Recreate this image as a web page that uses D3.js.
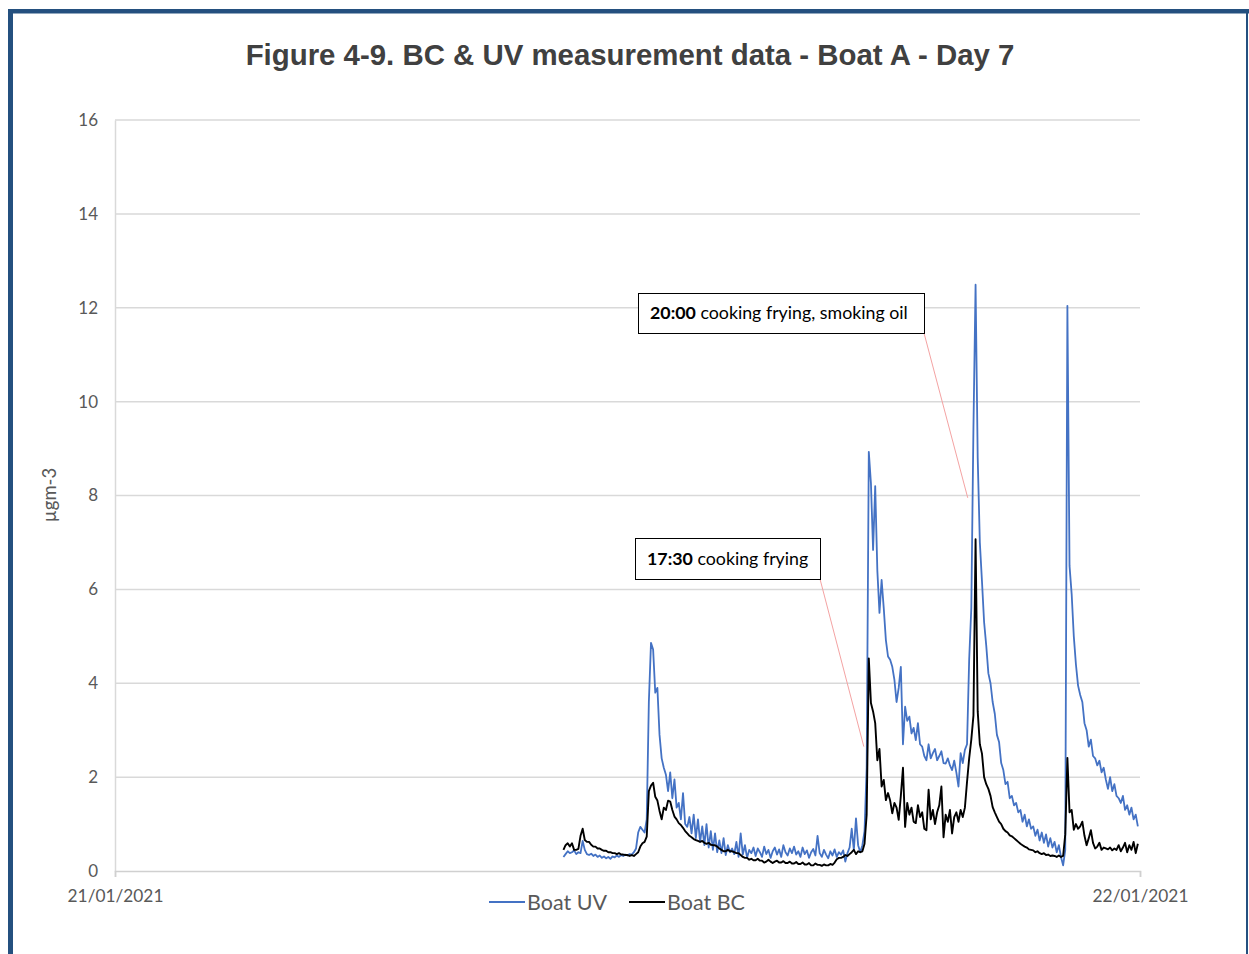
<!DOCTYPE html>
<html>
<head>
<meta charset="utf-8">
<script src="https://cdn.jsdelivr.net/npm/d3@7"></script>
<style>
  html, body { margin: 0; padding: 0; background: #ffffff; }
  svg { display: block; }
</style>
</head>
<body>
<svg id="chart" width="1249" height="954"></svg>
<script>
// Boat A, day 7: 3-minute readings from 10:30 until midnight
const startTime = new Date(2021, 0, 21, 10, 30);
const stepMinutes = 3;
const dayStart = new Date(2021, 0, 21, 0, 0);
const dayEnd = new Date(2021, 0, 22, 0, 0);

const uvValues = [
  0.30, 0.36, 0.42, 0.38, 0.40, 0.44, 0.36, 0.40, 0.38, 0.64,
  0.45, 0.36, 0.34, 0.37, 0.32, 0.35, 0.30, 0.33, 0.28, 0.31,
  0.27, 0.30, 0.26, 0.31, 0.29, 0.33, 0.30, 0.34, 0.32, 0.35,
  0.33, 0.36, 0.35, 0.40, 0.48, 0.82, 0.94, 0.88, 0.82, 1.10,
  3.60, 4.86, 4.72, 3.80, 3.90, 2.90, 2.40, 2.20, 2.05, 1.70,
  2.10, 1.55, 1.95, 1.35, 1.45, 1.10, 1.66, 1.00, 0.94, 1.15,
  0.80, 1.20, 0.70, 1.10, 0.62, 0.95, 0.55, 1.00, 0.50, 0.85,
  0.45, 0.80, 0.40, 0.65, 0.38, 0.70, 0.34, 0.55, 0.40, 0.48,
  0.36, 0.62, 0.30, 0.80, 0.35, 0.55, 0.28, 0.45, 0.38, 0.50,
  0.32, 0.48, 0.40, 0.30, 0.52, 0.36, 0.45, 0.28, 0.42, 0.50,
  0.35, 0.46, 0.30, 0.55, 0.40, 0.33, 0.48, 0.38, 0.52, 0.35,
  0.42, 0.30, 0.50, 0.36, 0.44, 0.28, 0.40, 0.47, 0.33, 0.75,
  0.38, 0.30, 0.45, 0.35, 0.27, 0.42, 0.33, 0.46, 0.30, 0.40,
  0.35, 0.44, 0.20, 0.38, 0.50, 0.90, 0.45, 1.12, 0.55, 0.40,
  0.55, 0.85, 2.20, 8.93, 8.26, 6.84, 8.20, 6.40, 5.50, 6.20,
  5.60, 4.92, 4.57, 4.50, 4.35, 4.07, 3.60, 3.90, 4.35, 2.70,
  3.50, 3.20, 3.29, 2.93, 3.05, 2.79, 3.15, 2.70, 2.65, 2.45,
  2.36, 2.70, 2.40, 2.51, 2.60, 2.36, 2.45, 2.55, 2.30, 2.29,
  2.40, 2.25, 2.15, 2.35, 2.10, 1.80, 2.51, 2.30, 2.58, 2.70,
  4.50, 5.60, 9.44, 12.49, 8.80, 7.00, 6.17, 5.30, 4.80, 4.21,
  4.00, 3.60, 3.35, 2.90, 2.75, 2.30, 2.15, 1.85, 1.90, 1.55,
  1.60, 1.40, 1.45, 1.25, 1.30, 1.05, 1.20, 0.95, 1.10, 0.90,
  0.95, 0.75, 0.88, 0.65, 0.82, 0.60, 0.78, 0.52, 0.70, 0.50,
  0.62, 0.40, 0.55, 0.30, 0.12, 0.45, 12.04, 6.50, 5.90, 5.00,
  4.40, 3.95, 3.75, 3.60, 3.15, 3.00, 2.65, 2.80, 2.45, 2.40,
  2.25, 2.35, 2.10, 2.20, 1.95, 1.75, 2.00, 1.70, 1.85, 1.60,
  1.55, 1.45, 1.60, 1.30, 1.40, 1.20, 1.35, 1.10, 1.20, 0.95
];

const bcValues = [
  0.45, 0.55, 0.59, 0.52, 0.59, 0.45, 0.45, 0.47, 0.75, 0.90,
  0.66, 0.62, 0.62, 0.56, 0.52, 0.52, 0.48, 0.48, 0.45, 0.43,
  0.43, 0.40, 0.40, 0.38, 0.38, 0.36, 0.38, 0.35, 0.35, 0.34,
  0.34, 0.32, 0.34, 0.32, 0.36, 0.40, 0.52, 0.59, 0.62, 0.73,
  1.70, 1.82, 1.88, 1.58, 1.50, 1.28, 1.10, 1.35, 1.30, 1.50,
  1.48, 1.30, 1.16, 1.10, 1.02, 0.98, 0.92, 0.85, 0.80, 0.75,
  0.72, 0.68, 0.66, 0.64, 0.62, 0.64, 0.60, 0.58, 0.60, 0.56,
  0.55, 0.55, 0.52, 0.48, 0.45, 0.42, 0.42, 0.45, 0.42, 0.42,
  0.40, 0.38, 0.38, 0.34, 0.30, 0.28, 0.28, 0.24, 0.26, 0.23,
  0.23, 0.26, 0.22, 0.22, 0.18, 0.20, 0.24, 0.20, 0.17, 0.20,
  0.22, 0.18, 0.18, 0.21, 0.17, 0.17, 0.20, 0.16, 0.16, 0.19,
  0.15, 0.15, 0.18, 0.14, 0.14, 0.17, 0.12, 0.12, 0.16, 0.13,
  0.13, 0.11, 0.14, 0.12, 0.12, 0.15, 0.13, 0.18, 0.25, 0.28,
  0.28, 0.30, 0.34, 0.32, 0.36, 0.40, 0.45, 0.36, 0.42, 0.40,
  0.42, 0.58, 1.20, 4.53, 3.58, 3.40, 3.15, 2.36, 2.60, 1.80,
  1.94, 1.51, 1.66, 1.50, 1.23, 1.45, 1.35, 1.09, 1.60, 2.20,
  0.94, 1.45, 1.20, 1.35, 1.05, 1.02, 1.40, 1.15, 1.25, 0.90,
  0.87, 1.73, 1.10, 1.30, 1.00, 1.25, 1.40, 1.80, 0.72, 1.20,
  1.05, 1.30, 0.80, 1.15, 1.25, 1.05, 1.30, 1.15, 1.35, 1.90,
  2.40, 2.80, 3.31, 7.07, 3.40, 2.70, 2.50, 2.00, 1.85, 1.75,
  1.60, 1.36, 1.25, 1.15, 1.05, 1.00, 0.90, 0.85, 0.82, 0.76,
  0.74, 0.70, 0.66, 0.62, 0.58, 0.55, 0.52, 0.50, 0.46, 0.45,
  0.44, 0.40, 0.42, 0.38, 0.36, 0.38, 0.34, 0.35, 0.32, 0.33,
  0.32, 0.30, 0.33, 0.30, 0.32, 0.78, 2.41, 1.25, 1.30, 0.88,
  1.00, 0.90, 0.95, 1.05, 0.75, 0.55, 0.70, 0.87, 0.60, 0.48,
  0.52, 0.60, 0.45, 0.50, 0.48, 0.46, 0.50, 0.44, 0.48, 0.45,
  0.55, 0.42, 0.50, 0.60, 0.40, 0.55, 0.45, 0.62, 0.38, 0.58
];

const yTicks = [0, 2, 4, 6, 8, 10, 12, 14, 16];
const xTickDates = [dayStart, dayEnd];
const seriesNames = ["Boat UV", "Boat BC"];
const seriesColors = ["#4472C4", "#000000"];

// Event notes: bold time, description, and the reading the leader points at
const noteTimes = ["20:00", "17:30"];
const noteTexts = [" cooking frying, smoking oil", " cooking frying"];
const noteTargets = [
  { time: new Date(2021, 0, 21, 19, 58), value: 7.95 },
  { time: new Date(2021, 0, 21, 17, 32), value: 2.65 }
];

const chartTitle = "Figure 4-9. BC & UV measurement data - Boat A - Day 7";
const yTitle = "µgm-3";

// ---------------------------------------------------------------
const svg = d3.select("#chart");
const W = 1249, H = 954;
const plot = { left: 115, right: 1140, top: 120, bottom: 871 };

const x = d3.scaleTime().domain([dayStart, dayEnd]).range([plot.left, plot.right]);
const y = d3.scaleLinear().domain([0, 16]).range([plot.bottom, plot.top]);

const timeAt = i => new Date(startTime.getTime() + i * stepMinutes * 60000);
const uvData = uvValues.map((v, i) => ({ t: timeAt(i), v }));
const bcData = bcValues.map((v, i) => ({ t: timeAt(i), v }));

// outer frame
const frameColor = "#24507f";
svg.append("rect").attr("x", 0).attr("y", 0).attr("width", W).attr("height", H).attr("fill", "#ffffff");
svg.append("rect").attr("x", 8).attr("y", 9).attr("width", W - 8).attr("height", 4.5).attr("fill", frameColor);
svg.append("rect").attr("x", 8).attr("y", 9).attr("width", 5).attr("height", H - 9).attr("fill", frameColor);
svg.append("rect").attr("x", W - 3).attr("y", 9).attr("width", 2).attr("height", H - 9).attr("fill", frameColor);

// title
svg.append("text")
  .attr("x", 630).attr("y", 65)
  .attr("text-anchor", "middle")
  .attr("font-family", "Liberation Sans, Arial, sans-serif")
  .attr("font-weight", "bold")
  .attr("font-size", 29.4)
  .attr("fill", "#404040")
  .text(chartTitle);

// horizontal gridlines
svg.append("g")
  .selectAll("line")
  .data(yTicks.filter(d => d > 0))
  .join("line")
  .attr("x1", plot.left).attr("x2", plot.right)
  .attr("y1", d => y(d)).attr("y2", d => y(d))
  .attr("stroke", "#d9d9d9").attr("stroke-width", 1.5);

// y axis
const yAxis = svg.append("g")
  .attr("transform", `translate(${plot.left},0)`)
  .call(d3.axisLeft(y).tickValues(yTicks).tickSize(0).tickPadding(17).tickFormat(d3.format("d")));
yAxis.select(".domain").attr("stroke", "#d9d9d9").attr("stroke-width", 1.5);
yAxis.selectAll("text")
  .attr("font-family", "Lato, sans-serif")
  .attr("font-size", 17)
  .attr("fill", "#595959");

// x axis
const xAxis = svg.append("g")
  .attr("transform", `translate(0,${plot.bottom})`)
  .call(d3.axisBottom(x).tickValues(xTickDates).tickSize(6).tickPadding(13).tickFormat(d3.timeFormat("%d/%m/%Y")));
xAxis.select(".domain").attr("stroke", "#d0d0d0").attr("stroke-width", 1.5);
xAxis.selectAll(".tick line").attr("stroke", "#d0d0d0").attr("stroke-width", 1.5);
xAxis.selectAll("text")
  .attr("font-family", "Lato, sans-serif")
  .attr("font-size", 17.3)
  .attr("fill", "#595959");

// y axis title
svg.append("text")
  .attr("transform", "translate(56,495) rotate(-90)")
  .attr("text-anchor", "middle")
  .attr("font-family", "Lato, sans-serif")
  .attr("font-size", 18.5)
  .attr("fill", "#595959")
  .text(yTitle);

// series lines
const line = d3.line().x(d => x(d.t)).y(d => y(d.v));
svg.append("path").datum(uvData)
  .attr("fill", "none").attr("stroke", seriesColors[0])
  .attr("stroke-width", 1.8).attr("stroke-linejoin", "round")
  .attr("d", line);
svg.append("path").datum(bcData)
  .attr("fill", "none").attr("stroke", seriesColors[1])
  .attr("stroke-width", 1.9).attr("stroke-linejoin", "round")
  .attr("d", line);

// annotation boxes with leader lines
const noteBoxes = [
  { x: 638, y: 293, w: 286, h: 40 },
  { x: 635, y: 538, w: 185, h: 41 }
];
noteBoxes.forEach((b, i) => {
  const tgt = noteTargets[i];
  svg.append("line")
    .attr("x1", b.x + b.w).attr("y1", b.y + b.h)
    .attr("x2", x(tgt.time)).attr("y2", y(tgt.value))
    .attr("stroke", "#f4a3a3").attr("stroke-width", 1);
  svg.append("rect")
    .attr("x", b.x + 0.5).attr("y", b.y + 0.5)
    .attr("width", b.w).attr("height", b.h)
    .attr("fill", "#ffffff").attr("stroke", "#000000").attr("stroke-width", 1);
  const t = svg.append("text")
    .attr("x", b.x + 12).attr("y", b.y + b.h / 2 + 6)
    .attr("font-family", "Lato, sans-serif")
    .attr("font-size", 17.8)
    .attr("fill", "#000000");
  t.append("tspan").attr("font-weight", "bold").text(noteTimes[i]);
  t.append("tspan").text(noteTexts[i]);
});

// legend
const legend = svg.append("g").attr("transform", "translate(0,902)");
const legendItems = [
  { x: 489, name: seriesNames[0], color: seriesColors[0] },
  { x: 629, name: seriesNames[1], color: seriesColors[1] }
];
legendItems.forEach(it => {
  legend.append("line")
    .attr("x1", it.x).attr("x2", it.x + 36)
    .attr("y1", 0).attr("y2", 0)
    .attr("stroke", it.color).attr("stroke-width", 2);
  legend.append("text")
    .attr("x", it.x + 38).attr("y", 7.5)
    .attr("font-family", "Lato, sans-serif")
    .attr("font-size", 21.5)
    .attr("fill", "#595959")
    .text(it.name);
});
</script>
</body>
</html>
